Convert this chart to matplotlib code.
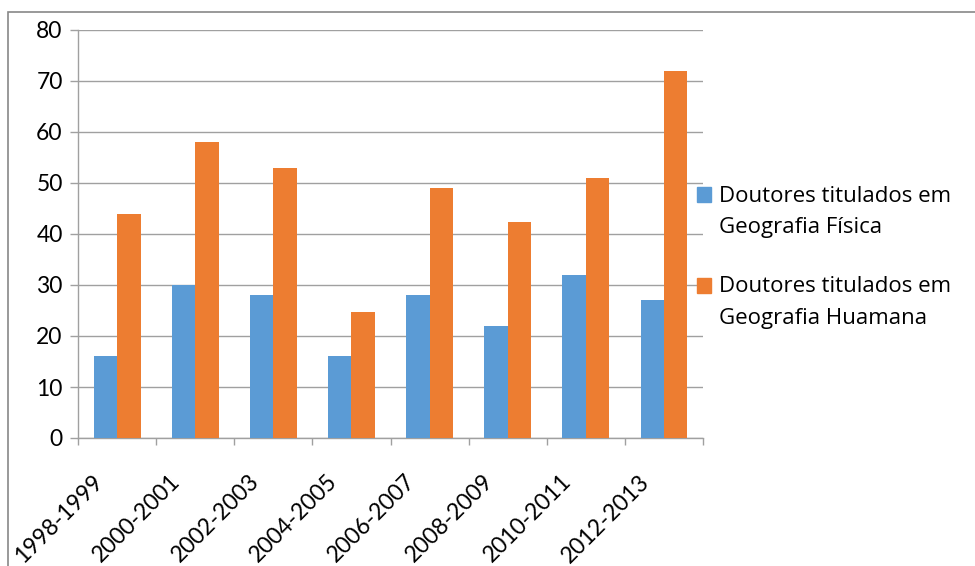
import matplotlib.pyplot as plt
from matplotlib.patches import Rectangle
from matplotlib.transforms import ScaledTranslation
import numpy as np

periodos = ["1998-1999", "2000-2001", "2002-2003", "2004-2005",
            "2006-2007", "2008-2009", "2010-2011", "2012-2013"]
fisica = [16, 30, 28, 16, 28, 22, 32, 27]
humana = [44, 58, 53, 24.8, 49, 42.3, 51, 72]
nomes = [["Doutores titulados em", "Geografia Física"],
         ["Doutores titulados em", "Geografia Huamana"]]
cores = ["#5B9BD5", "#ED7D31"]
cinza = "#a0a0a0"

plt.rcParams["font.family"] = ["Lato", "DejaVu Sans"]

fig = plt.figure(figsize=(9.75, 5.66), dpi=100)
ax = fig.add_axes([78 / 975, 1 - 438 / 566, 625 / 975, 408 / 566])

# moldura externa do grafico
fig.patches.append(Rectangle((8 / 975, -0.2), 1.2, 1.2 - 12 / 566,
                             transform=fig.transFigure, fill=False,
                             edgecolor="#888888", lw=1.2))

x = np.arange(len(periodos))
w = 0.3
ax.bar(x - w / 2, fisica, w, color=cores[0], zorder=3)
ax.bar(x + w / 2, humana, w, color=cores[1], zorder=3)

ax.set_xlim(-0.5, len(periodos) - 0.5)
ax.set_ylim(0, 80)
ax.set_yticks(range(0, 81, 10))
ax.yaxis.grid(True, color=cinza, lw=1)
ax.set_axisbelow(True)

for s in ["top", "right"]:
    ax.spines[s].set_visible(False)
for s in ["left", "bottom"]:
    ax.spines[s].set_color(cinza)
    ax.spines[s].set_linewidth(1)

ax.set_xticks(x)
ax.set_xticklabels(periodos, rotation=45, ha="right", va="center",
                   rotation_mode="anchor", fontsize=16.5)
ax.set_xticks(np.arange(len(periodos) + 1) - 0.5, minor=True)
ax.tick_params(axis="x", which="major", length=0, pad=29)
ax.tick_params(axis="x", which="minor", length=5, color=cinza, width=1)
ax.tick_params(axis="y", length=6, color=cinza, width=1, pad=5, labelsize=16.5)
for lbl in ax.get_xticklabels():
    lbl.set_transform(lbl.get_transform() +
                      ScaledTranslation(-0.18, 0, fig.dpi_scale_trans))

# legenda (quadrado alinhado com a primeira linha)
for i, (nome, cor) in enumerate(zip(nomes, cores)):
    y0 = 196 + 91 * i
    fig.patches.append(Rectangle((697 / 975, 1 - (y0 + 6) / 566),
                                 14 / 975, 15 / 566,
                                 transform=fig.transFigure, color=cor))
    for j, linha in enumerate(nome):
        fig.text(719 / 975, 1 - (y0 + 31.5 * j) / 566, linha,
                 va="center", ha="left", fontsize=16, family="Open Sans")

fig.savefig("out.png", dpi=100)
